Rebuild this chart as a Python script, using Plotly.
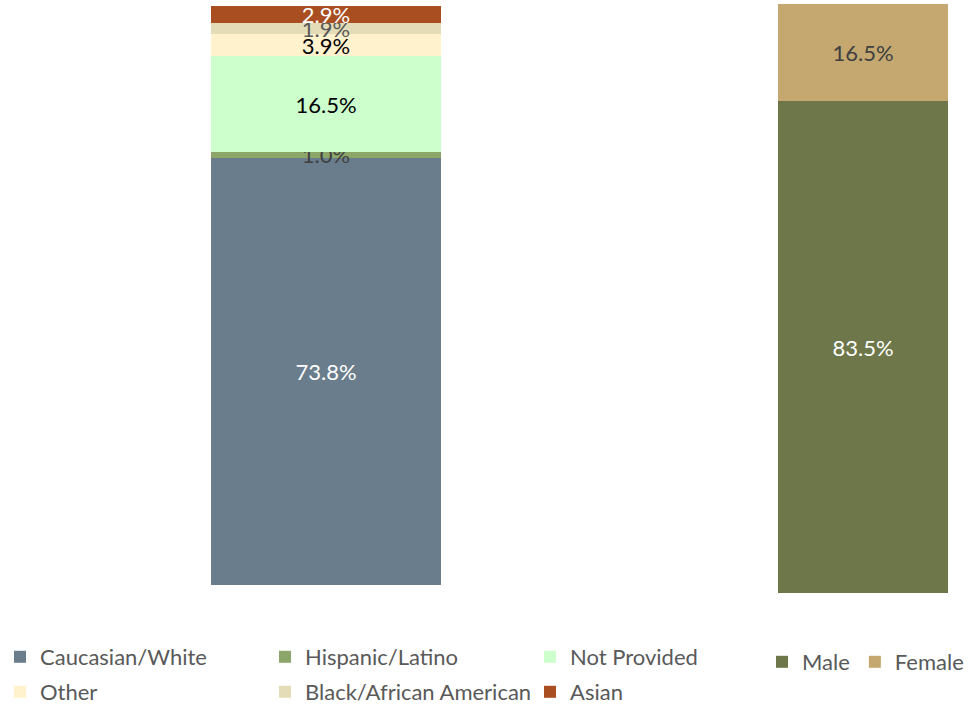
import plotly.graph_objects as go

eth_names = ["Caucasian/White", "Hispanic/Latino", "Not Provided", "Other",
             "Black/African American", "Asian"]
eth_values = [73.8, 1.0, 16.5, 3.9, 1.9, 2.9]
eth_colors = ["#697D8C", "#8CA66A", "#CCFFCC", "#FFF2CC", "#E3DCB6", "#A84E21"]
eth_text_colors = ["#FFFFFF", "#404040", "#000000", "#000000", "#595959", "#FFFFFF"]
eth_legend_rows = ["legend", "legend", "legend", "legend3", "legend3", "legend3"]

gen_names = ["Male", "Female"]
gen_values = [83.5, 16.5]
gen_colors = ["#6E774A", "#C4A870"]
gen_text_colors = ["#FFFFFF", "#404040"]

W, H = 972, 705
FONT = "Lato"


def px(x):
    return x / W


def py(y):
    return (H - y) / H


fig = go.Figure()

for n, v, c, tc, lg in zip(eth_names, eth_values, eth_colors, eth_text_colors, eth_legend_rows):
    fig.add_trace(go.Bar(
        x=[0], y=[v], name=n, marker=dict(color=c, line=dict(width=0)),
        width=1, texttemplate="%{y:.1f}%", textposition="inside",
        insidetextanchor="middle", textangle=0, constraintext="none",
        textfont=dict(color=tc, size=22, family=FONT),
        xaxis="x", yaxis="y", legend=lg, hoverinfo="skip"))

for n, v, c, tc in zip(gen_names, gen_values, gen_colors, gen_text_colors):
    fig.add_trace(go.Bar(
        x=[0], y=[v], name=n, marker=dict(color=c, line=dict(width=0)),
        width=1, texttemplate="%{y:.1f}%", textposition="inside",
        insidetextanchor="middle", textangle=0, constraintext="none",
        textfont=dict(color=tc, size=22, family=FONT),
        xaxis="x2", yaxis="y2", legend="legend2", hoverinfo="skip"))

ax_common = dict(showgrid=False, zeroline=False, showticklabels=False,
                 showline=False, ticks="", fixedrange=True)

leg_font = dict(size=22, family=FONT, color="#595959")

fig.update_layout(
    width=W, height=H, barmode="stack",
    margin=dict(l=0, r=0, t=0, b=0, autoexpand=False),
    paper_bgcolor="white", plot_bgcolor="white",
    font=dict(family=FONT, color="#595959"),
    xaxis=dict(domain=[px(211), px(441)], range=[-0.5, 0.5], **ax_common),
    yaxis=dict(domain=[py(585), py(6)], range=[0, 100], **ax_common),
    xaxis2=dict(domain=[px(778), px(948)], range=[-0.5, 0.5], anchor="y2", **ax_common),
    yaxis2=dict(domain=[py(593), py(4)], range=[0, 100], anchor="x2", **ax_common),
    uniformtext=dict(mode=False),
    legend=dict(orientation="h", x=0, xanchor="left", y=py(657), yanchor="middle",
                entrywidth=220, entrywidthmode="pixels", traceorder="normal",
                font=leg_font, bgcolor="rgba(0,0,0,0)", itemclick=False),
    legend3=dict(orientation="h", x=0, xanchor="left", y=py(692), yanchor="middle",
                 entrywidth=220, entrywidthmode="pixels", traceorder="normal",
                 font=leg_font, bgcolor="rgba(0,0,0,0)", itemclick=False),
    legend2=dict(orientation="h", x=px(762), xanchor="left", y=py(662), yanchor="middle",
                 traceorder="normal",
                 font=leg_font, bgcolor="rgba(0,0,0,0)", itemclick=False),
    showlegend=True,
)

fig.write_html("out.html", config={"displayModeBar": False},
               post_script="document.body.style.margin='0';document.body.style.overflow='hidden';")
